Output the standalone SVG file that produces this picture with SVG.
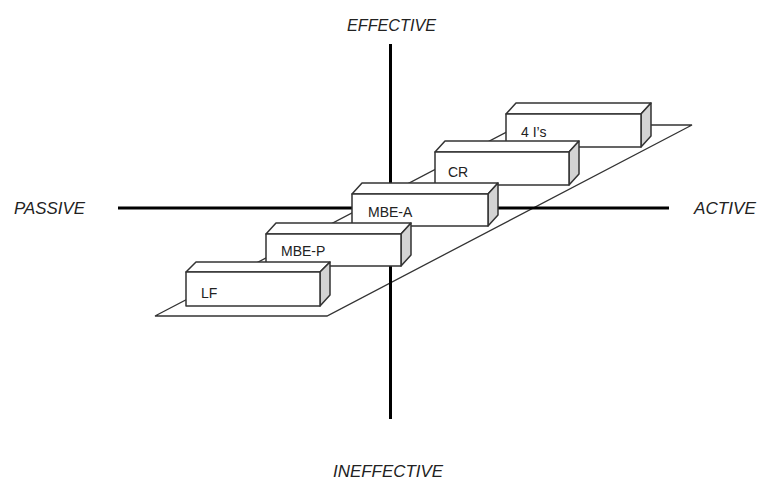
<svg xmlns="http://www.w3.org/2000/svg" width="758" height="479" viewBox="0 0 758 479">
<style>
.axis{stroke:#000;stroke-width:3;fill:none}
.plane{stroke:#333;stroke-width:1.3;fill:none}
.face{fill:#fff;stroke:#333;stroke-width:1.5;stroke-linejoin:round}
.side{fill:#d3d3d3;stroke:#333;stroke-width:1.5;stroke-linejoin:round}
.lbl{font-family:"Liberation Sans",Arial,sans-serif;font-size:14px;fill:#222}
.ax{font-family:"Liberation Sans",Arial,sans-serif;font-size:16px;font-style:italic;fill:#222}
</style>
<rect width="758" height="479" fill="#fff"/>
<g id="connectors">
<polygon class="plane" points="155,316 327,316 692,125 520,125"/>
<line class="axis" x1="390.5" y1="44" x2="390.5" y2="419"/>
<line class="axis" x1="118" y1="208" x2="669" y2="208"/>
</g>
<g id="node-4is">
<polygon class="face" points="506,114 516,103 651,103 641,114"/>
<polygon class="side" points="641,114 651,103 651,136 641,147"/>
<rect class="face" x="506" y="114" width="135" height="33"/>
<text class="lbl" x="521" y="137">4 I’s</text>
</g>
<g id="node-cr">
<polygon class="face" points="435,152 445,141 579,141 569,152"/>
<polygon class="side" points="569,152 579,141 579,174 569,185"/>
<rect class="face" x="435" y="152" width="134" height="33"/>
<text class="lbl" x="448" y="177">CR</text>
</g>
<g id="node-mbea">
<polygon class="face" points="352,194 362,183 498,183 488,194"/>
<polygon class="side" points="488,194 498,183 498,215 488,226"/>
<rect class="face" x="352" y="194" width="136" height="32"/>
<text class="lbl" x="368" y="217">MBE-A</text>
</g>
<g id="node-mbep">
<polygon class="face" points="266,234 276,223 411,223 401,234"/>
<polygon class="side" points="401,234 411,223 411,255 401,266"/>
<rect class="face" x="266" y="234" width="135" height="32"/>
<text class="lbl" x="281" y="256">MBE-P</text>
</g>
<g id="node-lf">
<polygon class="face" points="186,272 196,262 330,262 320,272"/>
<polygon class="side" points="320,272 330,262 330,295 320,306"/>
<rect class="face" x="186" y="272" width="134" height="34"/>
<text class="lbl" x="201" y="298">LF</text>
</g>
<g id="axis-labels">
<text class="ax" x="347" y="31" textLength="89" lengthAdjust="spacingAndGlyphs">EFFECTIVE</text>
<text class="ax" x="333" y="477" textLength="110" lengthAdjust="spacingAndGlyphs">INEFFECTIVE</text>
<text class="ax" x="14" y="214" textLength="71" lengthAdjust="spacingAndGlyphs">PASSIVE</text>
<text class="ax" x="694" y="214" textLength="62" lengthAdjust="spacingAndGlyphs">ACTIVE</text>
</g>
</svg>
